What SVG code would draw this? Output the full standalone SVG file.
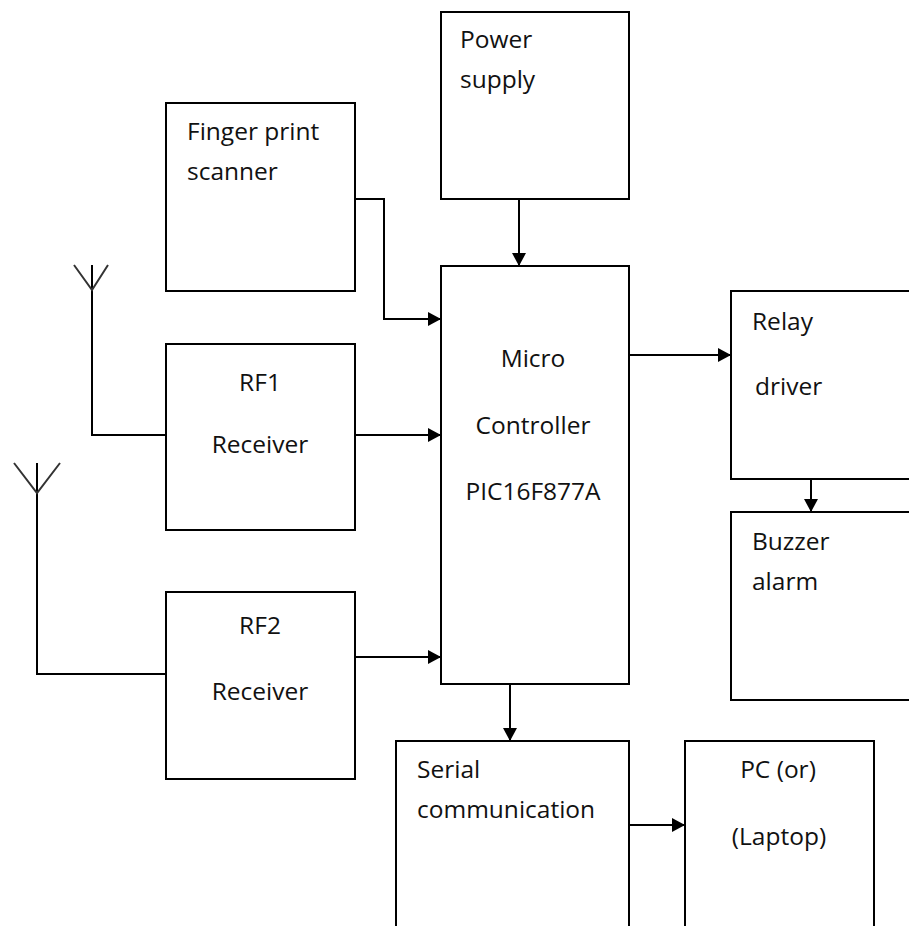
<svg xmlns="http://www.w3.org/2000/svg" width="909" height="926" viewBox="0 0 909 926">
<defs>
<style>
.box{fill:#fff;stroke:#000;stroke-width:2}
.ln{fill:none;stroke:#000;stroke-width:2}
.ant{fill:none;stroke:#333;stroke-width:2}
text{font-family:"Open Sans","Liberation Sans",sans-serif;font-size:24.5px;fill:#111}
.c{text-anchor:middle}
</style>
<marker id="ah" viewBox="0 0 13 14" refX="13" refY="7" markerWidth="13" markerHeight="14" markerUnits="userSpaceOnUse" orient="auto">
<path d="M0,0 L13,7 L0,14 Z" fill="#000"/>
</marker>
</defs>
<rect width="909" height="926" fill="#fff"/>
<g id="connectors">
<path class="ln" d="M519,199 V266" marker-end="url(#ah)"/>
<path class="ln" d="M355,199 H384 V319 H441" marker-end="url(#ah)"/>
<path class="ln" d="M355,435 H441" marker-end="url(#ah)"/>
<path class="ln" d="M355,657 H441" marker-end="url(#ah)"/>
<path class="ln" d="M629,355 H731" marker-end="url(#ah)"/>
<path class="ln" d="M811,479 V512" marker-end="url(#ah)"/>
<path class="ln" d="M510,684 V741" marker-end="url(#ah)"/>
<path class="ln" d="M629,825 H685" marker-end="url(#ah)"/>
<path class="ln" d="M92,265 V435 H166"/>
<path class="ln" d="M37,463 V674 H166"/>
</g>
<g id="antenna1"><path class="ant" d="M74,265 L92,290 L108,265"/></g>
<g id="antenna2"><path class="ant" d="M14,463 L37,493 L60,463"/></g>
<g id="power"><rect class="box" x="441" y="12" width="188" height="187"/><text x="460" y="48">Power</text><text x="460" y="88">supply</text></g>
<g id="finger"><rect class="box" x="166" y="103" width="189" height="188"/><text x="187" y="140">Finger print</text><text x="187" y="180">scanner</text></g>
<g id="micro"><rect class="box" x="441" y="266" width="188" height="418"/><text class="c" x="533" y="367">Micro</text><text class="c" x="533" y="434">Controller</text><text class="c" x="533" y="500">PIC16F877A</text></g>
<g id="rf1"><rect class="box" x="166" y="344" width="189" height="186"/><text class="c" x="260" y="391">RF1</text><text class="c" x="260" y="453">Receiver</text></g>
<g id="rf2"><rect class="box" x="166" y="592" width="189" height="187"/><text class="c" x="260" y="634">RF2</text><text class="c" x="260" y="700">Receiver</text></g>
<g id="relay"><rect class="box" x="731" y="291" width="190" height="188"/><text x="752" y="330">Relay</text><text x="755" y="395">driver</text></g>
<g id="buzzer"><rect class="box" x="731" y="512" width="190" height="188"/><text x="752" y="550">Buzzer</text><text x="752" y="590">alarm</text></g>
<g id="serial"><rect class="box" x="396" y="741" width="233" height="200"/><text x="417" y="778">Serial</text><text x="417" y="818">communication</text></g>
<g id="pc"><rect class="box" x="685" y="741" width="189" height="200"/><text class="c" x="778" y="778">PC (or)</text><text class="c" x="779" y="845">(Laptop)</text></g>
</svg>
